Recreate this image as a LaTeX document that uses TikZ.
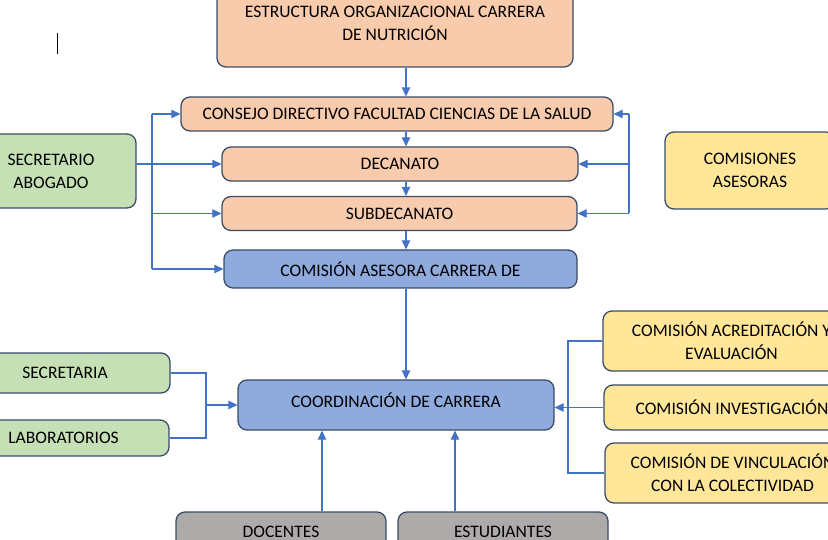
\documentclass[tikz,border=0pt]{standalone}
\usepackage{fontspec}
\setmainfont{Carlito}
\usetikzlibrary{arrows.meta,positioning}
\definecolor{salmonfill}{RGB}{248,203,173}
\definecolor{greenfill}{RGB}{197,224,180}
\definecolor{bluefill}{RGB}{143,170,220}
\definecolor{yellowfill}{RGB}{255,230,153}
\definecolor{grayfill}{RGB}{174,170,170}
\definecolor{edgeblue}{RGB}{58,76,104}
\definecolor{linkblue}{RGB}{68,114,196}
\newcommand{\px}{0.03cm}

\begin{document}
\begin{tikzpicture}[x=0.03cm, y=-0.03cm,
    box/.style={draw=edgeblue, line width=1.1pt, rounded corners=9*\px, align=center,
        inner sep=0pt, font=\fontsize{15}{19.6}\selectfont},
    salmonbox/.style={box, fill=salmonfill},
    greenbox/.style={box, fill=greenfill},
    bluebox/.style={box, fill=bluefill},
    yellowbox/.style={box, fill=yellowfill},
    graybox/.style={box, fill=grayfill},
    link/.style={linkblue, line width=1pt},
    arr/.style={link, -{Triangle[length=9*\px, width=8.5*\px]}}]
    \useasboundingbox (0,0) rectangle (828,540);
    \clip (0,0) rectangle (828,540);

    % Column of authorities
    \node[salmonbox, minimum width=356*\px, minimum height=87*\px] (estructura) at (395,23.5)
        {ESTRUCTURA ORGANIZACIONAL CARRERA\\DE NUTRICIÓN};
    \node[salmonbox, minimum width=432*\px, minimum height=34*\px] (consejo) at (397,114)
        {CONSEJO DIRECTIVO FACULTAD CIENCIAS DE LA SALUD};
    \node[salmonbox, minimum width=356*\px, minimum height=34*\px] (decanato) at (400,164) {DECANATO};
    \node[salmonbox, minimum width=355*\px, minimum height=34*\px] (subdecanato) at (399.5,213.5) {SUBDECANATO};
    \node[bluebox, minimum width=353*\px, minimum height=38*\px] (asesora) at (400.5,269)
        {COMISIÓN ASESORA CARRERA DE};
    \node[bluebox, minimum width=316*\px, minimum height=50*\px, text depth=8.5pt] (coordinacion) at (396,405)
        {COORDINACIÓN DE CARRERA};

    % Side boxes
    \node[greenbox, minimum width=170*\px, minimum height=74*\px] (secretario) at (51,171)
        {SECRETARIO\\ABOGADO};
    \node[yellowbox, minimum width=170*\px, minimum height=77*\px] (comisiones) at (750,170.5)
        {COMISIONES\\ASESORAS};
    \node[greenbox, minimum width=210*\px, minimum height=40*\px] (secretaria) at (65,373) {SECRETARIA};
    \node[greenbox, minimum width=211*\px, minimum height=36*\px] (laboratorios) at (63.5,438) {LABORATORIOS};
    \node[yellowbox, minimum width=257*\px, minimum height=60*\px] (acreditacion) at (731.5,341)
        {COMISIÓN ACREDITACIÓN Y\\EVALUACIÓN};
    \node[yellowbox, minimum width=256*\px, minimum height=45*\px] (investigacion) at (732,407.5)
        {COMISIÓN INVESTIGACIÓN};
    \node[yellowbox, minimum width=255*\px, minimum height=60*\px] (vinculacion) at (732.5,473)
        {COMISIÓN DE VINCULACIÓN\\CON LA COLECTIVIDAD};
    \node[graybox, minimum width=210*\px, minimum height=40*\px] (docentes) at (281,532) {DOCENTES};
    \node[graybox, minimum width=210*\px, minimum height=40*\px] (estudiantes) at (503,532) {ESTUDIANTES};

    % Guide coordinates
    \coordinate (spine) at (406,0);
    \coordinate (leftbar) at (152,0);
    \coordinate (rightbar) at (629,0);
    \coordinate (lowleft) at (206,0);
    \coordinate (lowright) at (568,0);
    \coordinate (docx) at (322,0);
    \coordinate (estx) at (455,0);

    % Main spine
    \draw[arr] (estructura.south -| spine) -- (consejo.north -| spine);
    \draw[arr] (consejo.south -| spine) -- (decanato.north -| spine);
    \draw[arr] (decanato.south -| spine) -- (subdecanato.north -| spine);
    \draw[arr] (subdecanato.south -| spine) -- (asesora.north -| spine);
    \draw[arr] (asesora.south -| spine) -- (coordinacion.north -| spine);

    % Left bracket
    \draw[link] (leftbar |- consejo.west) -- (leftbar |- asesora.west);
    \draw[arr] (leftbar |- consejo.west) -- (consejo.west);
    \draw[arr] (secretario.east |- decanato.west) -- (decanato.west);
    \draw[arr] (leftbar |- subdecanato.west) -- (subdecanato.west);
    \draw[arr] (leftbar |- asesora.west) -- (asesora.west);

    % Right bracket
    \draw[link] (rightbar |- consejo.east) -- (rightbar |- subdecanato.east);
    \draw[arr] (rightbar |- consejo.east) -- (consejo.east);
    \draw[arr] (rightbar |- decanato.east) -- (decanato.east);
    \draw[arr] (rightbar |- subdecanato.east) -- (subdecanato.east);

    % Lower brackets
    \draw[link] (secretaria.east) -- (secretaria.east -| lowleft) -- (laboratorios.east -| lowleft) -- (laboratorios.east);
    \draw[arr] (lowleft |- coordinacion.west) -- (coordinacion.west);
    \draw[link] (acreditacion.west) -- (acreditacion.west -| lowright) -- (vinculacion.west -| lowright) -- (vinculacion.west);
    \draw[arr] (investigacion.west) -- (investigacion.west -| coordinacion.east);

    % Bottom arrows
    \draw[arr] (docentes.north -| docx) -- (coordinacion.south -| docx);
    \draw[arr] (estudiantes.north -| estx) -- (coordinacion.south -| estx);

    % Cursor mark
    \draw[black, line width=0.8pt] (57,33) -- (57,54);
\end{tikzpicture}
\end{document}
